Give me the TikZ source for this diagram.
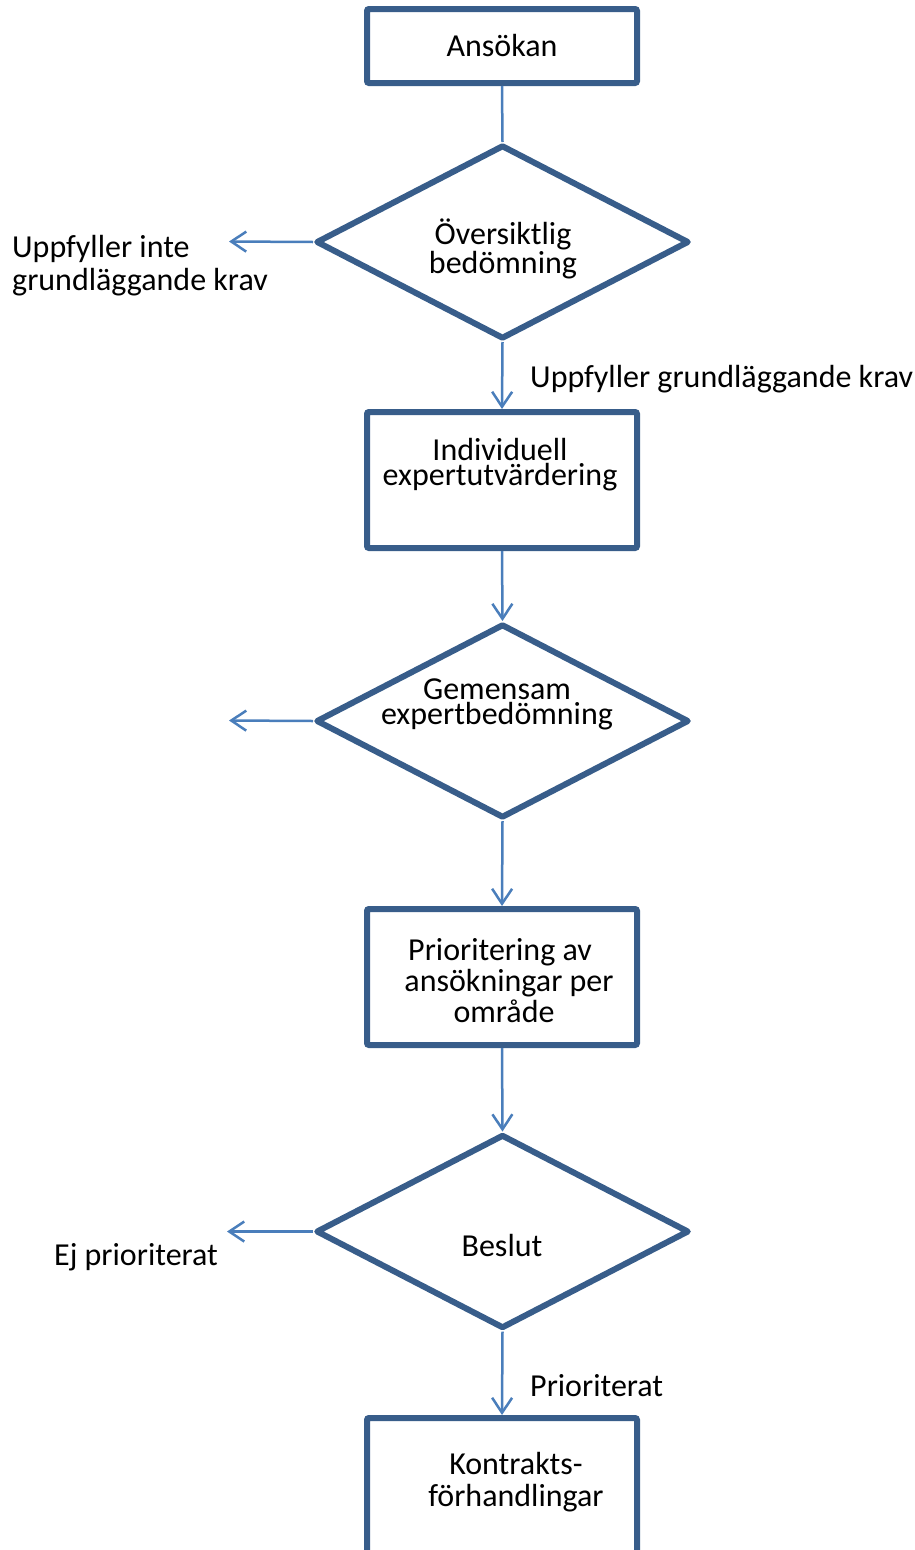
\documentclass[tikz,border=0pt]{standalone}
\usepackage{fontspec}
\setmainfont{Carlito}
\usetikzlibrary{arrows.meta,shapes.geometric}
\definecolor{boxc}{HTML}{385D8A}
\definecolor{linec}{HTML}{4A7EBB}
\begin{document}
\begin{tikzpicture}[x=1pt,y=-1pt,
  stepbox/.style={draw=boxc, line width=6pt, rounded corners=2pt, minimum width=270pt, inner sep=0pt, fill=white},
  decision/.style={diamond, draw=boxc, line width=6pt, line join=round, minimum width=373pt, minimum height=194pt, inner sep=0pt, fill=white},
  tight/.style={font=\fontsize{32}{25}\selectfont, align=center, inner sep=0pt},
  loose/.style={font=\fontsize{32}{32}\selectfont, align=center, inner sep=0pt},
  mid/.style={font=\fontsize{32}{31}\selectfont, align=center, inner sep=0pt},
  lbl/.style={font=\fontsize{32}{33}\selectfont, align=left, inner sep=0pt, anchor=west},
  conn/.style={draw=linec, line width=2.5pt, -{Straight Barb[length=15pt,width=20pt]}},
  plain/.style={draw=linec, line width=2.5pt}
]
\useasboundingbox (0,0) rectangle (915,1550);
\clip (0,0) rectangle (915,1550);
% shapes
\node[stepbox, minimum height=74pt] (b1) at (502,46) {};
\node[decision] (d1) at (502.5,242) {};
\node[stepbox, minimum height=136pt] (b2) at (502,480) {};
\node[decision] (d2) at (502.5,721) {};
\node[stepbox, minimum height=136pt] (b3) at (502,977) {};
\node[decision] (d3) at (502.5,1231.5) {};
\node[stepbox, minimum height=150pt] (b4) at (502,1493) {};
% texts in shapes
\node[tight] (t1) at (502,46) {Ansökan};
\node[tight] (t2) at (503,249) {Översiktlig\\bedömning};
\node[tight] (t3) at (500,465) {Individuell\\expertutvärdering};
\node[tight] (t4) at (497,704) {Gemensam\\expertbedömning};
\node[mid] (t5) at (509,981) {Prioritering av\hspace*{18pt}\\ansökningar per\\område\hspace*{10pt}};
\node[loose] (t6) at (516,1482) {Kontrakts-\\förhandlingar};
\node[tight] (t7) at (502,1245) {Beslut};
% free ends
\coordinate (e1) at (229,241.5);
\coordinate (e2) at (229,720.5);
\coordinate (e3) at (227,1231.5);
% connectors
\draw[plain] (b1.south) -- (d1.north);
\draw[conn] (d1.west) -- (e1);
\draw[conn] (d1.south) -- (b2.north);
\draw[conn] (b2.south) -- (d2.north);
\draw[conn] (d2.west) -- (e2);
\draw[conn] (d2.south) -- (b3.north);
\draw[conn] (b3.south) -- (d3.north);
\draw[conn] (d3.west) -- (e3);
\draw[conn] (d3.south) -- (b4.north);
% labels
\node[lbl] (l1) at (12,266) {Uppfyller inte\\grundläggande krav};
\node[lbl] (l2) at (530,379) {Uppfyller grundläggande krav};
\node[lbl] (l3) at (54,1257) {Ej prioriterat};
\node[lbl] (l4) at (530,1386) {Prioriterat};
\end{tikzpicture}
\end{document}
